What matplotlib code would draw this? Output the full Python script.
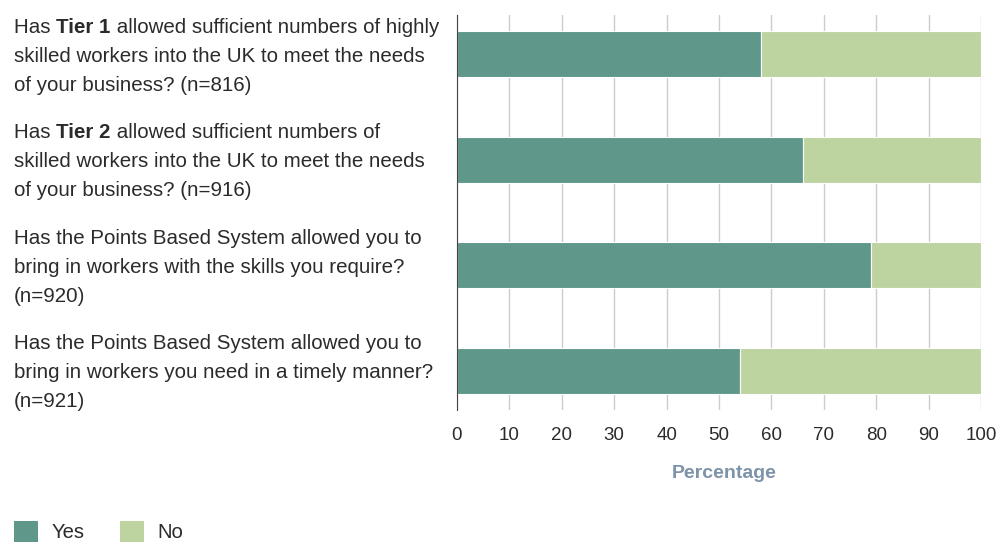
import numpy as np
import matplotlib
matplotlib.use('Agg')
import matplotlib.pyplot as plt
import matplotlib.transforms as transforms
from matplotlib.patches import Patch

plt.rcParams['font.family'] = 'Liberation Sans'

# each line is a list of (text, bold) pieces
questions = [
    [[('Has ', False), ('Tier 1', True), (' allowed sufficient numbers of highly', False)],
     [('skilled workers into the UK to meet the needs', False)],
     [('of your business? (n=816)', False)]],
    [[('Has ', False), ('Tier 2', True), (' allowed sufficient numbers of', False)],
     [('skilled workers into the UK to meet the needs', False)],
     [('of your business? (n=916)', False)]],
    [[('Has the Points Based System allowed you to', False)],
     [('bring in workers with the skills you require?', False)],
     [('(n=920)', False)]],
    [[('Has the Points Based System allowed you to', False)],
     [('bring in workers you need in a timely manner?', False)],
     [('(n=921)', False)]],
]
yes = [58, 66, 79, 54]
no = [100 - v for v in yes]

yes_color = '#5f978b'
no_color = '#bdd4a0'
text_color = '#2b2b2b'

fig = plt.figure(figsize=(10, 5.42), dpi=100)
ax = fig.add_axes([0.457, 0.2435, 0.524, 0.7288])

pos = np.arange(len(questions))
ax.barh(pos, yes, height=0.435, color=yes_color, edgecolor='white', linewidth=0.8, zorder=2)
ax.barh(pos, no, left=yes, height=0.435, color=no_color, edgecolor='white', linewidth=0.8, zorder=2)

ax.set_xlim(0, 100)
ax.set_ylim(3.37, -0.37)
ax.set_xticks(np.arange(0, 101, 10))
ax.set_yticks([])
ax.tick_params(axis='x', length=0, pad=12, labelsize=13.5, labelcolor=text_color)
ax.grid(axis='x', color='#cccccc', linewidth=1, zorder=0)
for side in ['top', 'right', 'bottom']:
    ax.spines[side].set_visible(False)
ax.spines['left'].set_color('#444444')
ax.spines['left'].set_zorder(3)

ax.set_xlabel('Percentage', fontsize=14, fontweight='bold', color='#7d93a8')
ax.xaxis.set_label_coords(0.51, -0.14)

fig.canvas.draw()
renderer = fig.canvas.get_renderer()
base = transforms.blended_transform_factory(fig.transFigure, ax.transData)
line_gap = 29  # pixels
fs = 14.8
for i, lines in enumerate(questions):
    for j, pieces in enumerate(lines):
        dy = (1 - j) * line_gap
        dx = 0
        for txt, bold in pieces:
            tr = transforms.offset_copy(base, fig=fig, x=dx, y=dy, units='dots')
            t = fig.text(0.014, i, txt, transform=tr, ha='left', va='center_baseline',
                         fontsize=fs, color=text_color,
                         fontweight='bold' if bold else 'normal')
            dx += t.get_window_extent(renderer).width

handles = [Patch(facecolor=yes_color, label='Yes'), Patch(facecolor=no_color, label='No')]
fig.legend(handles=handles, loc='lower left', bbox_to_anchor=(-0.004, -0.034), ncol=2,
           frameon=False, fontsize=14.6, handlelength=1.15, handleheight=1.2,
           columnspacing=1.75, handletextpad=0.7, labelcolor=text_color)

fig.savefig('out.png', dpi=100)
